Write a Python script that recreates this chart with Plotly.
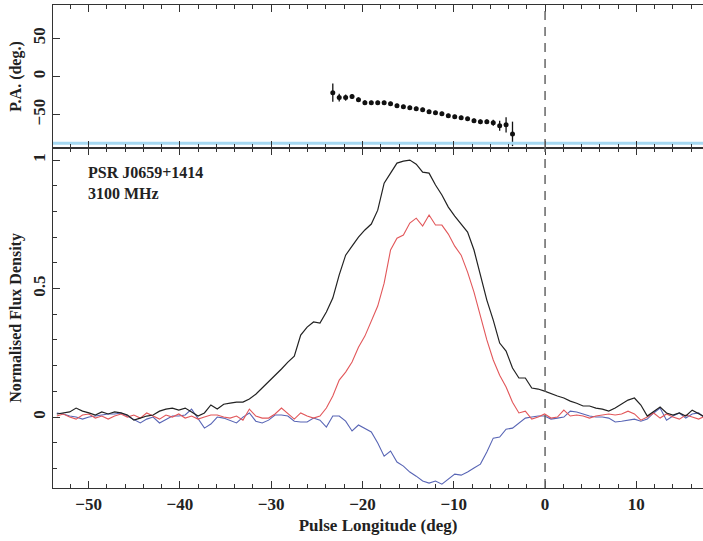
import numpy as np
import plotly.graph_objects as go
from plotly.subplots import make_subplots

# ---- data ----
lon_start = -53.48
lon_step = 0.703
stokes_I = [0.012, 0.016, 0.02, 0.035, 0.023, 0.016, 0.008, 0.02, 0.012, 0.02,
            0.016, 0.008, -0.012, -0.004, 0.004, 0.008, 0.023, 0.031, 0.035, 0.027,
            0.035, 0.02, 0.004, 0.016, 0.047, 0.031, 0.05, 0.054, 0.058, 0.058,
            0.07, 0.089, 0.113, 0.14, 0.16, 0.187, 0.214, 0.237, 0.319, 0.35,
            0.37, 0.366, 0.409, 0.463, 0.553, 0.63, 0.665, 0.70, 0.728, 0.751,
            0.805, 0.91, 0.949, 0.988, 0.996, 1.0, 0.984, 0.953, 0.949, 0.903,
            0.864, 0.817, 0.782, 0.751, 0.72, 0.65, 0.553, 0.455, 0.377, 0.288,
            0.257, 0.191, 0.152, 0.152, 0.113, 0.109, 0.101, 0.093, 0.082, 0.074,
            0.062, 0.054, 0.043, 0.043, 0.035, 0.031, 0.023, 0.035, 0.05, 0.066,
            0.074, 0.047, 0.004, 0.023, 0.039, 0.016, 0.008, 0.016, 0.004, 0.027,
            0.012, 0.0]
linear_L = [0.004, 0.012, 0.0, -0.008, 0.008, 0.012, -0.004, 0.004, -0.008, 0.004,
            0.012, 0.0, 0.008, -0.004, 0.016, 0.004, -0.008, 0.008, 0.0, 0.012,
            -0.004, 0.004, -0.008, 0.0, 0.008, 0.008, 0.0, -0.004, 0.004, -0.012,
            0.031, 0.004, -0.004, -0.004, 0.012, 0.035, 0.012, -0.008, 0.016, 0.004,
            -0.004, 0.004, 0.035, 0.082, 0.144, 0.175, 0.214, 0.272, 0.315, 0.37,
            0.432, 0.521, 0.65, 0.696, 0.708, 0.755, 0.774, 0.743, 0.786, 0.747,
            0.747, 0.712, 0.665, 0.63, 0.564, 0.486, 0.397, 0.30, 0.222, 0.163,
            0.117, 0.058, 0.016, 0.023, -0.008, 0.0, 0.012, -0.004, 0.0, 0.027,
            0.004, 0.008, 0.004, -0.004, 0.004, 0.008, 0.012, 0.008, 0.012, 0.023,
            0.012, -0.012, 0.0, 0.016, -0.004, 0.012, 0.0, -0.008, 0.008, 0.0,
            -0.008, 0.004]
circular_V = [0.016, 0.012, 0.004, 0.0, -0.008, 0.0, 0.004, 0.008, 0.012, 0.012,
              0.016, 0.004, -0.008, -0.023, -0.008, 0.0, -0.023, -0.008, 0.004, 0.004,
              0.008, 0.031, -0.004, -0.043, -0.027, 0.0, -0.004, -0.012, -0.023, 0.0,
              0.016, -0.016, -0.023, -0.012, 0.008, 0.008, 0.004, -0.016, -0.019, -0.019,
              -0.004, -0.012, -0.039, 0.004, 0.004, -0.016, -0.054, -0.031, -0.043, -0.058,
              -0.101, -0.152, -0.132, -0.175, -0.191, -0.214, -0.23, -0.249, -0.257, -0.249,
              -0.261, -0.241, -0.222, -0.226, -0.214, -0.198, -0.183, -0.136, -0.082, -0.078,
              -0.047, -0.043, -0.023, -0.004, 0.0, 0.004, 0.004, -0.008, -0.004, 0.0,
              0.023, 0.02, 0.012, 0.004, 0.0, 0.0, -0.004, -0.019, -0.016, -0.012,
              -0.008, -0.016, -0.008, 0.016, 0.035, -0.012, 0.004, 0.016, -0.004, 0.012,
              0.016, -0.004]
pa_first_bin = 43
pa_deg = [-21.1, -27.6, -27.6, -26.3, -30.3, -34.2, -34.2, -34.2, -34.2, -35.5,
          -38.2, -39.5, -40.8, -42.1, -43.4, -46.1, -47.4, -48.7, -51.3, -52.6,
          -53.9, -55.3, -57.9, -59.2, -59.2, -60.5, -64.5, -63.2, -75.0]
pa_err = [12, 5, 4, 3, 3, 3, 2.5, 2.5, 2.5, 2.5, 2.5, 2.5, 2.5, 2.5, 2.5, 2.5,
          2.5, 2.5, 2.5, 2.5, 2.5, 2.5, 3, 3, 3, 4, 6.5, 10, 16]
source_label = ["PSR J0659+1414", "3100 MHz"]

lon = np.round(lon_start + lon_step * np.arange(len(stokes_I)), 3)
pa_lon = lon[pa_first_bin:pa_first_bin + len(pa_deg)]

FONT = "Liberation Serif"
fig = make_subplots(rows=2, cols=1, shared_xaxes=False, vertical_spacing=0.0,
                    row_heights=[0.296, 0.704])

fig.add_trace(go.Scatter(x=pa_lon, y=pa_deg, mode="markers",
                         marker=dict(color="#111", size=5),
                         error_y=dict(type="data", array=pa_err, color="#111",
                                      thickness=1.3, width=0),
                         showlegend=False), row=1, col=1)
fig.add_trace(go.Scatter(x=[-60, 20], y=[-87.3, -87.3], mode="lines",
                         line=dict(color="#a6d9f2", width=3),
                         showlegend=False, hoverinfo="skip"), row=1, col=1)

fig.add_trace(go.Scatter(x=lon, y=circular_V, mode="lines",
                         line=dict(color="#5865b5", width=1.1), showlegend=False), row=2, col=1)
fig.add_trace(go.Scatter(x=lon, y=linear_L, mode="lines",
                         line=dict(color="#e2575a", width=1.1), showlegend=False), row=2, col=1)
fig.add_trace(go.Scatter(x=lon, y=stokes_I, mode="lines",
                         line=dict(color="#222", width=1.2), showlegend=False), row=2, col=1)

xcommon = dict(range=[-53.9, 17.3], showline=True, linecolor="#333", linewidth=1.3,
               mirror="allticks", ticks="inside", ticklen=7, tickwidth=1.2, tickcolor="#333",
               dtick=10, tick0=0, showgrid=False, zeroline=False,
               minor=dict(ticks="inside", ticklen=4, dtick=2, tickcolor="#333", tickwidth=1))
fig.update_xaxes(**xcommon, showticklabels=False, row=1, col=1)
fig.update_xaxes(**xcommon, showticklabels=True,
                 tickfont=dict(family=FONT, size=17, color="#222", weight="bold"),
                 title=dict(text="Pulse Longitude (deg)", standoff=6,
                            font=dict(family=FONT, size=17, color="#222", weight="bold")),
                 row=2, col=1)

ycommon = dict(showline=True, linecolor="#333", linewidth=1.3, mirror=False,
               ticks="inside", ticklen=7, tickwidth=1.2, tickcolor="#333",
               showgrid=False, zeroline=False, tickangle=-90)
fig.update_yaxes(**ycommon, range=[-93.4, 93.4], tickvals=[-50, 0, 50],
                 ticktext=["\u221250", "0", "50"],
                 tickfont=dict(family=FONT, size=17, color="#222", weight="bold"),
                 title=dict(text="P.A. (deg.)", standoff=4,
                            font=dict(family=FONT, size=16, color="#222", weight="bold")),
                 row=1, col=1)
fig.update_yaxes(**ycommon, range=[-0.276, 1.047], tickvals=[0, 0.5, 1],
                 ticktext=["0", "0.5", "1"],
                 minor=dict(ticks="inside", ticklen=4, dtick=0.1, tickcolor="#333", tickwidth=1),
                 tickfont=dict(family=FONT, size=17, color="#222", weight="bold"),
                 title=dict(text="Normalised Flux Density", standoff=4,
                            font=dict(family=FONT, size=16, color="#222", weight="bold")),
                 row=2, col=1)

for yr in ["y domain", "y2 domain"]:
    xr = "x" if yr == "y domain" else "x2"
    fig.add_shape(type="line", xref=xr, yref=yr, x0=0, x1=0, y0=0, y1=1,
                  line=dict(color="#666", width=1.5, dash="9px,7px"))

fig.add_annotation(xref="x2 domain", yref="y2 domain", x=0.051, y=0.96,
                   xanchor="left", yanchor="top", align="left", showarrow=False,
                   text="<br>".join(source_label),
                   font=dict(family=FONT, size=16, color="#222", weight="bold"))

fig.update_layout(width=703, height=541, margin=dict(l=53, r=0, t=5, b=53),
                  plot_bgcolor="white", paper_bgcolor="white")
fig.write_html("out.html")
